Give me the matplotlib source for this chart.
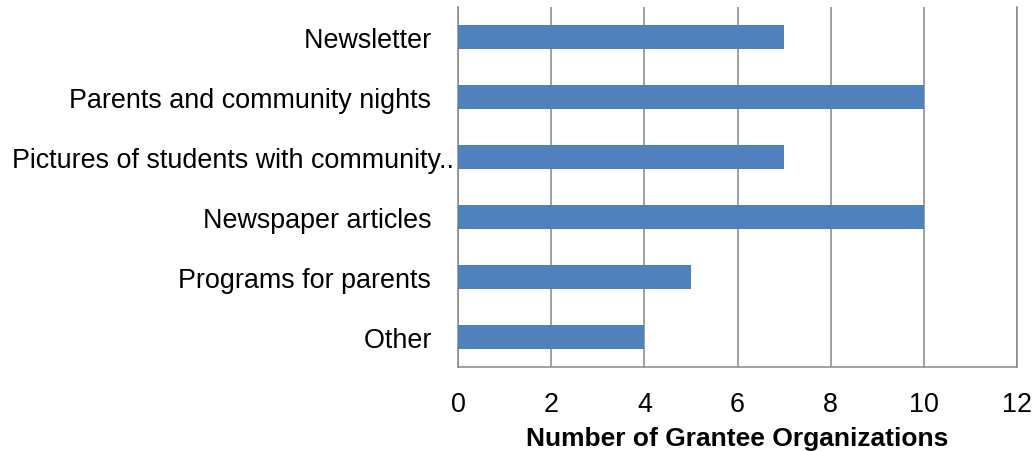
import matplotlib.pyplot as plt

categories = ['Newsletter   ', 'Parents and community nights   ',
              'Pictures of students with community..', 'Newspaper articles   ',
              'Programs for parents   ', 'Other   ']
counts = [7, 10, 7, 10, 5, 4]
xticks = [0, 2, 4, 6, 8, 10, 12]

BAR_COLOR = '#4F81BD'
GRID_COLOR = '#868686'

plt.rcParams['font.family'] = ['Liberation Sans', 'DejaVu Sans']

fig = plt.figure(figsize=(10.36, 4.52), dpi=100)
ax = fig.add_axes([0.4421, 0.1858, 0.5396, 0.7965])

ypos = list(range(len(categories)))[::-1]
ax.barh(ypos, counts, height=0.39, color=BAR_COLOR, zorder=3)

ax.set_xlim(0, 12)
ax.set_ylim(-0.5, len(categories) - 0.5)
ax.set_xticks(xticks)
ax.set_yticks(ypos)
ax.set_yticklabels(categories)
ax.tick_params(axis='both', length=0, labelsize=19.4)
ax.tick_params(axis='x', pad=17)
ax.tick_params(axis='y', pad=3)

ax.xaxis.grid(True, color=GRID_COLOR, lw=1.1, zorder=0)
ax.spines['top'].set_visible(False)
for s in ('left', 'bottom', 'right'):
    ax.spines[s].set_color(GRID_COLOR)
    ax.spines[s].set_linewidth(1.1)

ax.set_xlabel('Number of Grantee Organizations', fontsize=19,
              fontweight='bold', labelpad=7)

fig.savefig('out.png', dpi=100)
